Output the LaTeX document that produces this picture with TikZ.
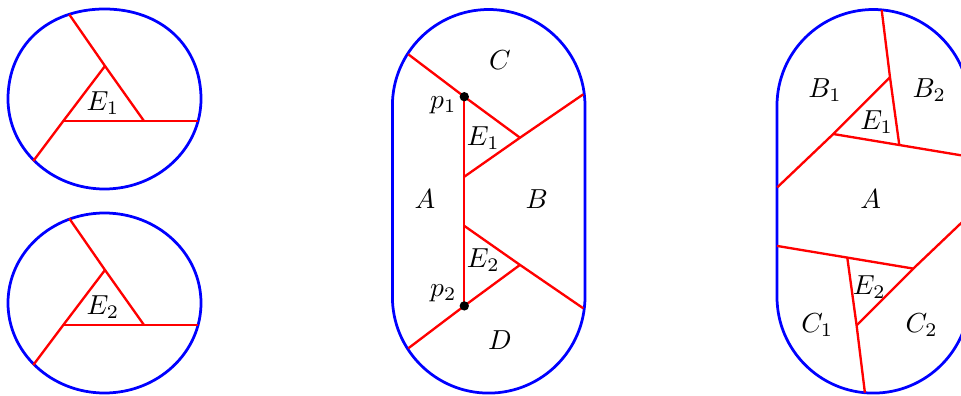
\documentclass[tikz,border=0pt]{standalone}
\begin{document}
\begin{tikzpicture}[x=0.3636pt, y=0.3636pt,
  bnd/.style={draw=blue, line width=1pt},
  cut/.style={draw=red, line width=0.85pt},
  lab/.style={inner sep=0pt},
  pdot/.style={fill=black, circle, inner sep=0pt, minimum size=3.4pt}]
\clip (0,0) rectangle (961,395);

% ---------- left top piece ----------
\draw[bnd] (8,296) .. controls (8,349.1) and (47.6,386) .. (104.5,386)
  .. controls (161.4,386) and (201,349.1) .. (201,296)
  arc[start angle=0, end angle=-180, x radius=96.5, y radius=90] -- cycle;
\coordinate (aT) at (105,329);
\coordinate (aL) at (63.3,274);
\coordinate (aR) at (144,274);
\coordinate (aE1) at (69.3,380.5);
\coordinate (aE2) at (33.3,234);
\coordinate (aE3) at (198.3,274);
\draw[cut] (aE1) -- (aT) -- (aR);
\draw[cut] (aE2) -- (aL) -- (aT);
\draw[cut] (aL) -- (aR) -- (aE3);
\node[lab] (aLab) at (103,292) {$E_1$};

% ---------- left bottom piece ----------
\draw[bnd] (104.5,92) ellipse [x radius=96.5, y radius=90];
\coordinate (bT) at (105,125);
\coordinate (bL) at (63.3,70);
\coordinate (bR) at (144,70);
\coordinate (bE1) at (69.3,176.5);
\coordinate (bE2) at (33.3,30);
\coordinate (bE3) at (198.3,70);
\draw[cut] (bE1) -- (bT) -- (bR);
\draw[cut] (bE2) -- (bL) -- (bT);
\draw[cut] (bL) -- (bR) -- (bE3);
\node[lab] (bLab) at (103,88.3) {$E_2$};

% ---------- middle stadium ----------
\begin{scope}[shift={(488.7,193.7)}]
\draw[bnd] (-96.3,95.5) arc[start angle=180, end angle=0, radius=96.3]
  -- (96.3,-95.5) arc[start angle=0, end angle=-180, radius=96.3] -- cycle;
\coordinate (p1) at (-24.4,104.6);
\coordinate (UL) at (-80.4,147);
\coordinate (X1) at (31.3,63.6);
\coordinate (V1) at (-24.4,24.6);
\coordinate (UR) at (94.6,107);
\coordinate (p2) at (-24.4,-104.6);
\coordinate (LL) at (-80.4,-147);
\coordinate (X2) at (31.3,-63.6);
\coordinate (V2) at (-24.4,-24.6);
\coordinate (LR) at (94.6,-107);
\draw[cut] (UL) -- (p1) -- (X1);
\draw[cut] (V1) -- (X1) -- (UR);
\draw[cut] (p1) -- (V1) -- (V2) -- (p2);
\draw[cut] (V2) -- (X2) -- (LR);
\draw[cut] (LL) -- (p2) -- (X2);
\node[pdot] (dp1) at (p1) {};
\node[pdot] (dp2) at (p2) {};
\node[lab] (mC) at (11.3,141.3) {$C$};
\node[lab] (mp1) at (-45.4,96.3) {$p_1$};
\node[lab] (mE1) at (-5.4,63) {$E_1$};
\node[lab] (mA) at (-63.7,2) {$A$};
\node[lab] (mB) at (48,2) {$B$};
\node[lab] (mE2) at (-5.4,-58.7) {$E_2$};
\node[lab] (mp2) at (-45.4,-92) {$p_2$};
\node[lab] (mD) at (11.3,-138.7) {$D$};
\end{scope}

% ---------- right stadium ----------
\begin{scope}[shift={(873.3,193.7)}]
\draw[bnd] (-96.3,95.5) arc[start angle=180, end angle=0, radius=96.3]
  -- (96.3,-95.5) arc[start angle=0, end angle=-180, radius=96.3] -- cycle;
\coordinate (T1) at (8.4,191.3);
\coordinate (P) at (26,56.3);
\coordinate (Q) at (-40,67.3);
\coordinate (R) at (16.7,124);
\coordinate (L) at (-96,14);
\coordinate (RB) at (96.3,44.6);
\coordinate (T1b) at (-8.4,-191.3);
\coordinate (Pb) at (-26,-56.3);
\coordinate (Qb) at (40,-67.3);
\coordinate (Rb) at (-16.7,-124);
\coordinate (Lb) at (96,-14);
\coordinate (RBb) at (-96.3,-44.6);
\draw[cut] (T1) -- (R) -- (P);
\draw[cut] (L) -- (Q) -- (R);
\draw[cut] (Q) -- (P) -- (RB);
\draw[cut] (T1b) -- (Rb) -- (Pb);
\draw[cut] (Lb) -- (Qb) -- (Rb);
\draw[cut] (Qb) -- (Pb) -- (RBb);
\node[lab] (rB1) at (-48.3,111.3) {$B_1$};
\node[lab] (rB2) at (56,111.3) {$B_2$};
\node[lab] (rE1) at (3.4,79.6) {$E_1$};
\node[lab] (rA) at (-2.6,2) {$A$};
\node[lab] (rE2) at (-4,-85.4) {$E_2$};
\node[lab] (rC1) at (-56,-123.7) {$C_1$};
\node[lab] (rC2) at (48.4,-123.7) {$C_2$};
\end{scope}
\end{tikzpicture}
\end{document}
